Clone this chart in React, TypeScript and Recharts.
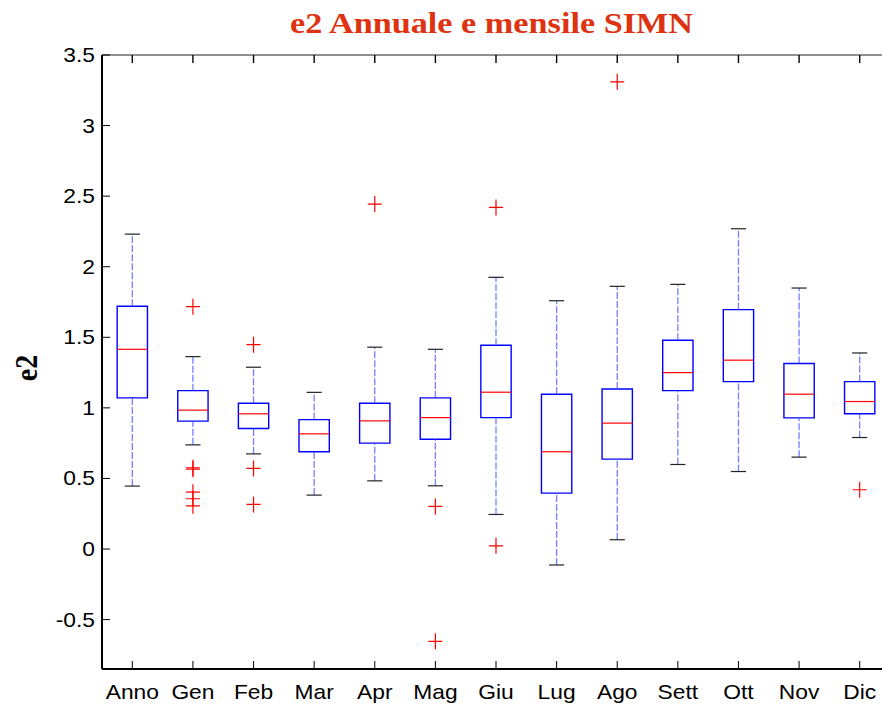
import { ComposedChart, XAxis, YAxis, Scatter, ReferenceLine, ReferenceArea } from 'recharts'

const categories = ['Anno', 'Gen', 'Feb', 'Mar', 'Apr', 'Mag', 'Giu', 'Lug', 'Ago', 'Sett', 'Ott', 'Nov', 'Dic']
const whiskerLow = [0.446, 0.738, 0.674, 0.382, 0.483, 0.448, 0.245, -0.113, 0.066, 0.599, 0.549, 0.651, 0.79]
const q1 = [1.071, 0.906, 0.854, 0.689, 0.75, 0.778, 0.931, 0.396, 0.637, 1.122, 1.186, 0.929, 0.958]
const median = [1.415, 0.984, 0.958, 0.816, 0.908, 0.931, 1.111, 0.689, 0.892, 1.25, 1.338, 1.097, 1.045]
const q3 = [1.72, 1.122, 1.033, 0.917, 1.033, 1.071, 1.444, 1.097, 1.134, 1.479, 1.696, 1.314, 1.186]
const whiskerHigh = [2.231, 1.363, 1.288, 1.11, 1.43, 1.415, 1.925, 1.759, 1.861, 1.875, 2.269, 1.849, 1.389]
const outliers = [
  [],
  [1.717, 0.575, 0.565, 0.403, 0.356, 0.306],
  [1.448, 0.571, 0.316],
  [],
  [2.444],
  [0.302, -0.654],
  [2.42, 0.023],
  [],
  [3.31],
  [],
  [],
  [],
  [0.42],
]
const yTicks = [-0.5, 0, 0.5, 1, 1.5, 2, 2.5, 3, 3.5]
const xTicks = categories.map((_, i) => i + 1)

const outlierPoints = outliers.flatMap((vals, i) => vals.map((v) => ({ x: i + 1, y: v })))

const X_DOMAIN = [0.5, 13.5]
const Y_DOMAIN = [-0.85, 3.5]
// a point just inside the top frame for every category, used to draw inward ticks
const topTickPoints = xTicks.map((t) => ({ x: t, y: 3.45 }))

const BOX = 0.25
const CAP = 0.125
const STRETCH = 1.14
const FONT = '"Liberation Sans", Arial, sans-serif'

const Plus = (props: any) => {
  const { cx, cy } = props
  return (
    <path
      d={`M${cx - 7},${cy}H${cx + 7}M${cx},${cy - 8}V${cy + 8}`}
      stroke="#ff0000"
      strokeWidth={1.2}
      fill="none"
    />
  )
}

const TopTick = (props: any) => {
  const { cx, cy } = props
  // cy sits 0.05 below the frame, about 7px
  return <path d={`M${cx},${cy - 7}V${cy + 1}`} stroke="#000" strokeWidth={1.4} fill="none" />
}

const XTick = ({ x, y, payload }: any) => (
  <g transform={`translate(${x},${y}) scale(${STRETCH},1)`}>
    <text textAnchor="middle" dy="0.71em" fontSize={20} fontFamily={FONT} fill="#000">
      {categories[payload.value - 1]}
    </text>
  </g>
)

const YTick = ({ x, y, payload }: any) => (
  <g transform={`translate(${x},${y}) scale(${STRETCH},1)`}>
    <text textAnchor="end" dy="0.35em" fontSize={20} fontFamily={FONT} fill="#000">
      {payload.value}
    </text>
  </g>
)

export default function App() {
  return (
    <div style={{ position: 'absolute', left: 0, top: 0, width: 882, height: 704, overflow: 'hidden', background: '#fff' }}>
      <ComposedChart width={900} height={704} margin={{ top: 54, right: 9, left: 0, bottom: 0 }}>
        <XAxis
          type="number"
          dataKey="x"
          domain={X_DOMAIN}
          ticks={xTicks}
          allowDataOverflow
          height={35}
          tickSize={-8}
          tickMargin={24}
          tick={<XTick />}
          axisLine={{ stroke: '#000', strokeWidth: 2 }}
          tickLine={{ stroke: '#000' }}
        />
        <XAxis
          xAxisId="top"
          orientation="top"
          type="number"
          dataKey="x"
          domain={X_DOMAIN}
          allowDataOverflow
          height={1}
          tick={false}
          tickLine={false}
          axisLine={{ stroke: '#222', strokeWidth: 1.2 }}
        />
        <YAxis
          type="number"
          domain={Y_DOMAIN}
          ticks={yTicks}
          allowDataOverflow
          width={102}
          tickSize={-8}
          tickMargin={15}
          tick={<YTick />}
          axisLine={{ stroke: '#000', strokeWidth: 2 }}
          tickLine={{ stroke: '#000' }}
        />
        <YAxis
          yAxisId="right"
          orientation="right"
          type="number"
          domain={Y_DOMAIN}
          allowDataOverflow
          width={1}
          tick={false}
          tickLine={false}
          axisLine={{ stroke: '#000' }}
        />
        {categories.map((_, i) => {
          const x = i + 1
          return [
            <ReferenceLine key={`wl${i}`} segment={[{ x, y: whiskerLow[i] }, { x, y: q1[i] }]} stroke="#4455ff" strokeDasharray="7 2" strokeWidth={1.3} strokeOpacity={0.75} />,
            <ReferenceLine key={`wh${i}`} segment={[{ x, y: q3[i] }, { x, y: whiskerHigh[i] }]} stroke="#4455ff" strokeDasharray="7 2" strokeWidth={1.3} strokeOpacity={0.75} />,
            <ReferenceLine key={`cl${i}`} segment={[{ x: x - CAP, y: whiskerLow[i] }, { x: x + CAP, y: whiskerLow[i] }]} stroke="#222" strokeWidth={1.2} />,
            <ReferenceLine key={`ch${i}`} segment={[{ x: x - CAP, y: whiskerHigh[i] }, { x: x + CAP, y: whiskerHigh[i] }]} stroke="#222" strokeWidth={1.2} />,
            <ReferenceArea key={`b${i}`} x1={x - BOX} x2={x + BOX} y1={q1[i]} y2={q3[i]} fill="none" stroke="#0000ff" strokeWidth={1.4} />,
            <ReferenceLine key={`m${i}`} segment={[{ x: x - BOX, y: median[i] }, { x: x + BOX, y: median[i] }]} stroke="#ff0000" strokeWidth={1.2} />,
          ]
        })}
        <Scatter data={topTickPoints} dataKey="y" shape={<TopTick />} isAnimationActive={false} />
        <Scatter data={outlierPoints} dataKey="y" shape={<Plus />} isAnimationActive={false} />
      </ComposedChart>
      <svg width={882} height={704} style={{ position: 'absolute', left: 0, top: 0, pointerEvents: 'none' }}>
        <text
          x={290}
          y={33}
          textLength={403}
          lengthAdjust="spacingAndGlyphs"
          fontSize={30}
          fontWeight="bold"
          fontFamily='"Liberation Serif", "Times New Roman", serif'
          fill="#dd3311"
        >
          e2 Annuale e mensile SIMN
        </text>
        <text
          transform="translate(37,368) rotate(-90) scale(1,1.14)"
          textAnchor="middle"
          fontSize={28}
          fontWeight="bold"
          fontFamily='"Liberation Serif", "Times New Roman", serif'
          fill="#000"
        >
          e2
        </text>
      </svg>
    </div>
  )
}
